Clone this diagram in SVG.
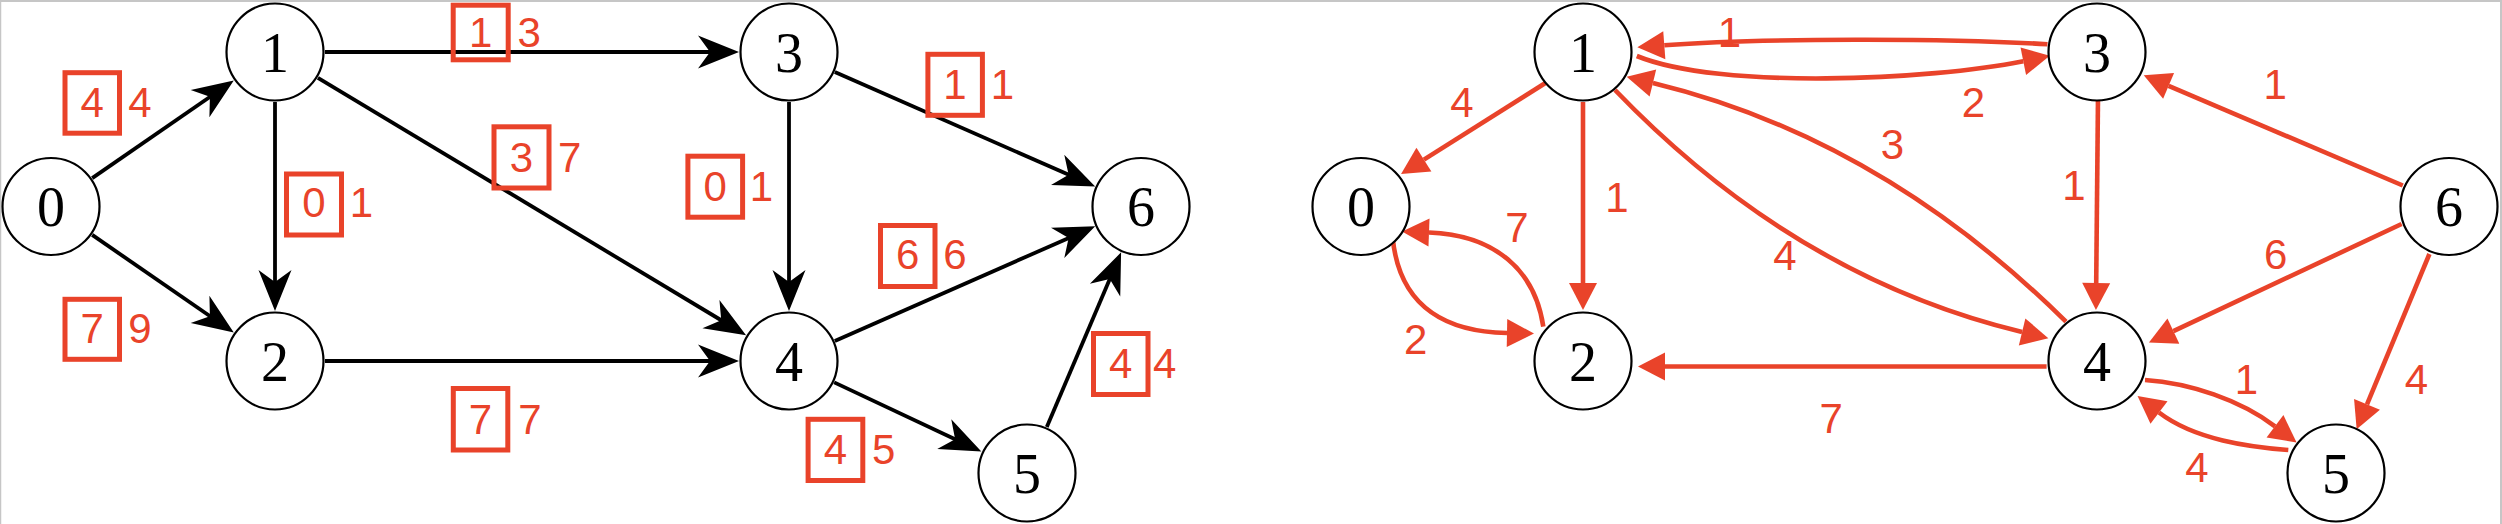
<svg xmlns="http://www.w3.org/2000/svg" width="2502" height="524" viewBox="0 0 2502 524">
<style>
.node circle{fill:#fff;stroke:#000;stroke-width:2.2}
.node text{font-family:"Liberation Serif","DejaVu Serif",serif;font-size:56px;text-anchor:middle;fill:#000}
.blk{fill:none;stroke:#000;stroke-width:3.8;marker-end:url(#stealth)}
.red{fill:none;stroke:#E9432A;stroke-width:4.6;marker-end:url(#tri)}
.lbl{font-family:"Liberation Sans","Arial",sans-serif;font-size:42px;fill:#E9432A;text-anchor:middle}
.box{fill:none;stroke:#E9432A;stroke-width:5}
.frame{stroke:#c6c6c6;fill:none}
</style>
<defs>
<marker id="stealth" markerUnits="userSpaceOnUse" markerWidth="42" markerHeight="34" refX="29" refY="17" orient="auto" overflow="visible">
<path d="M41,17 L0,0.5 L12,17 L0,33.5 Z" fill="#000"/>
</marker>
<marker id="tri" markerUnits="userSpaceOnUse" markerWidth="27" markerHeight="28" refX="0" refY="14" orient="auto" overflow="visible">
<path d="M0,0 L27,14 L0,28 Z" fill="#E9432A"/>
</marker>
</defs>
<rect width="2502" height="524" fill="#fff"/>
<g id="frame" class="frame">
<line x1="0" y1="1" x2="2502" y2="1" stroke-width="2"/>
<line x1="0.5" y1="0" x2="0.5" y2="524" stroke-width="1.5"/>
<line x1="2501" y1="0" x2="2501" y2="524" stroke-width="2"/>
</g>
<g id="connectors">
<path class="blk" d="M92.2,178.1 L223.9,87.2"/>
<path class="blk" d="M92.2,234.9 L223.9,325.8"/>
<path class="blk" d="M275,102 L275,299"/>
<path class="blk" d="M325,52 L727,52"/>
<path class="blk" d="M317.9,77.8 L735.8,329"/>
<path class="blk" d="M325,361 L727,361"/>
<path class="blk" d="M789,102 L789,299"/>
<path class="blk" d="M834.8,72.1 L1084.2,181.6"/>
<path class="blk" d="M834.8,340.9 L1084.2,231.2"/>
<path class="blk" d="M834.2,382.4 L970.5,446.5"/>
<path class="blk" d="M1046.8,427.1 L1116.4,263.4"/>
<path class="red" d="M1547,82 L1423.9,159.6"/>
<path class="red" d="M1583,102 L1583,283"/>
<path class="red" d="M2047.5,44.3 C1950,38 1760,38 1664.3,45.3"/>
<path class="red" d="M1636.8,56 C1720,90 1930,80 2023.3,61.2"/>
<path class="red" d="M2066,321.7 Q1880.4,138.1 1652.9,83"/>
<path class="red" d="M1615,90 Q1795.4,277.5 2022.1,332"/>
<path class="red" d="M1392.7,238.3 C1400,310 1450,332 1507,333"/>
<path class="red" d="M1543.3,326.7 C1535,270 1495,235 1429,232.5"/>
<path class="red" d="M2046.6,366.5 L1665,366.5"/>
<path class="red" d="M2098,97 L2096.2,283"/>
<path class="red" d="M2402.8,185.5 L2168.6,85.8"/>
<path class="red" d="M2401.6,224 L2173.4,331.1"/>
<path class="red" d="M2429.4,254 L2367,404.4"/>
<path class="red" d="M2145,380 C2190,383 2240,400 2275,426.3"/>
<path class="red" d="M2288.3,450 C2250,447 2195,440 2159,412.5"/>
</g>
<g id="left-nodes">
<g id="L0" class="node"><circle cx="51" cy="206.5" r="48.5"/><text x="51" y="226">0</text></g>
<g id="L1" class="node"><circle cx="275" cy="52" r="48.5"/><text x="275" y="71.5">1</text></g>
<g id="L2" class="node"><circle cx="275" cy="361" r="48.5"/><text x="275" y="380.5">2</text></g>
<g id="L3" class="node"><circle cx="789" cy="52" r="48.5"/><text x="789" y="71.5">3</text></g>
<g id="L4" class="node"><circle cx="789" cy="361" r="48.5"/><text x="789" y="380.5">4</text></g>
<g id="L5" class="node"><circle cx="1027" cy="473" r="48.5"/><text x="1027" y="492.5">5</text></g>
<g id="L6" class="node"><circle cx="1141" cy="206.5" r="48.5"/><text x="1141" y="226">6</text></g>
</g>
<g id="right-nodes">
<g id="R0" class="node"><circle cx="1361" cy="206.5" r="48.5"/><text x="1361" y="226">0</text></g>
<g id="R1" class="node"><circle cx="1583" cy="52" r="48.5"/><text x="1583" y="71.5">1</text></g>
<g id="R2" class="node"><circle cx="1583" cy="361" r="48.5"/><text x="1583" y="380.5">2</text></g>
<g id="R3" class="node"><circle cx="2097" cy="52" r="48.5"/><text x="2097" y="71.5">3</text></g>
<g id="R4" class="node"><circle cx="2097" cy="361" r="48.5"/><text x="2097" y="380.5">4</text></g>
<g id="R5" class="node"><circle cx="2336" cy="473" r="48.5"/><text x="2336" y="492.5">5</text></g>
<g id="R6" class="node"><circle cx="2449" cy="206.5" r="48.5"/><text x="2449" y="226">6</text></g>
</g>
<g id="left-labels">
<rect class="box" x="65" y="72.7" width="54.5" height="60.5"/><text class="lbl" x="92.2" y="117">4</text><text class="lbl" x="140" y="117">4</text>
<rect class="box" x="65" y="299.3" width="54.5" height="60"/><text class="lbl" x="92.2" y="342.6">7</text><text class="lbl" x="140" y="342.6">9</text>
<rect class="box" x="453.2" y="5.2" width="55" height="54.6"/><text class="lbl" x="480.7" y="46.7">1</text><text class="lbl" x="529.2" y="46.7">3</text>
<rect class="box" x="494" y="126.8" width="55" height="61.2"/><text class="lbl" x="521.5" y="172">3</text><text class="lbl" x="569.6" y="172">7</text>
<rect class="box" x="286.5" y="174" width="55" height="61"/><text class="lbl" x="314" y="217">0</text><text class="lbl" x="361.5" y="217">1</text>
<rect class="box" x="453.3" y="388.5" width="54.5" height="61.5"/><text class="lbl" x="480.4" y="433.5">7</text><text class="lbl" x="530" y="433.5">7</text>
<rect class="box" x="927.9" y="54.3" width="54.5" height="61"/><text class="lbl" x="955" y="98.6">1</text><text class="lbl" x="1002.5" y="98.6">1</text>
<rect class="box" x="687.9" y="156.2" width="54.7" height="61"/><text class="lbl" x="715.3" y="200.5">0</text><text class="lbl" x="761.5" y="200.5">1</text>
<rect class="box" x="880.5" y="225.5" width="54.5" height="61"/><text class="lbl" x="907.7" y="269">6</text><text class="lbl" x="954.9" y="269">6</text>
<rect class="box" x="808.1" y="419.3" width="54.7" height="61.2"/><text class="lbl" x="835.5" y="463.6">4</text><text class="lbl" x="883.7" y="463.6">5</text>
<rect class="box" x="1093.5" y="333.5" width="54.5" height="61"/><text class="lbl" x="1120.7" y="377.7">4</text><text class="lbl" x="1164.8" y="377.7">4</text>
</g>
<g id="right-labels">
<text class="lbl" x="1462" y="117">4</text>
<text class="lbl" x="1617" y="212">1</text>
<text class="lbl" x="1729.4" y="46.7">1</text>
<text class="lbl" x="1973.4" y="116.7">2</text>
<text class="lbl" x="1892.5" y="158.5">3</text>
<text class="lbl" x="1785" y="270">4</text>
<text class="lbl" x="1415.8" y="353.5">2</text>
<text class="lbl" x="1517" y="242">7</text>
<text class="lbl" x="1831.3" y="432.8">7</text>
<text class="lbl" x="2074" y="200">1</text>
<text class="lbl" x="2275.2" y="98.6">1</text>
<text class="lbl" x="2275.7" y="269">6</text>
<text class="lbl" x="2416.5" y="394.4">4</text>
<text class="lbl" x="2246.5" y="393.5">1</text>
<text class="lbl" x="2197" y="481.5">4</text>
</g>
</svg>
